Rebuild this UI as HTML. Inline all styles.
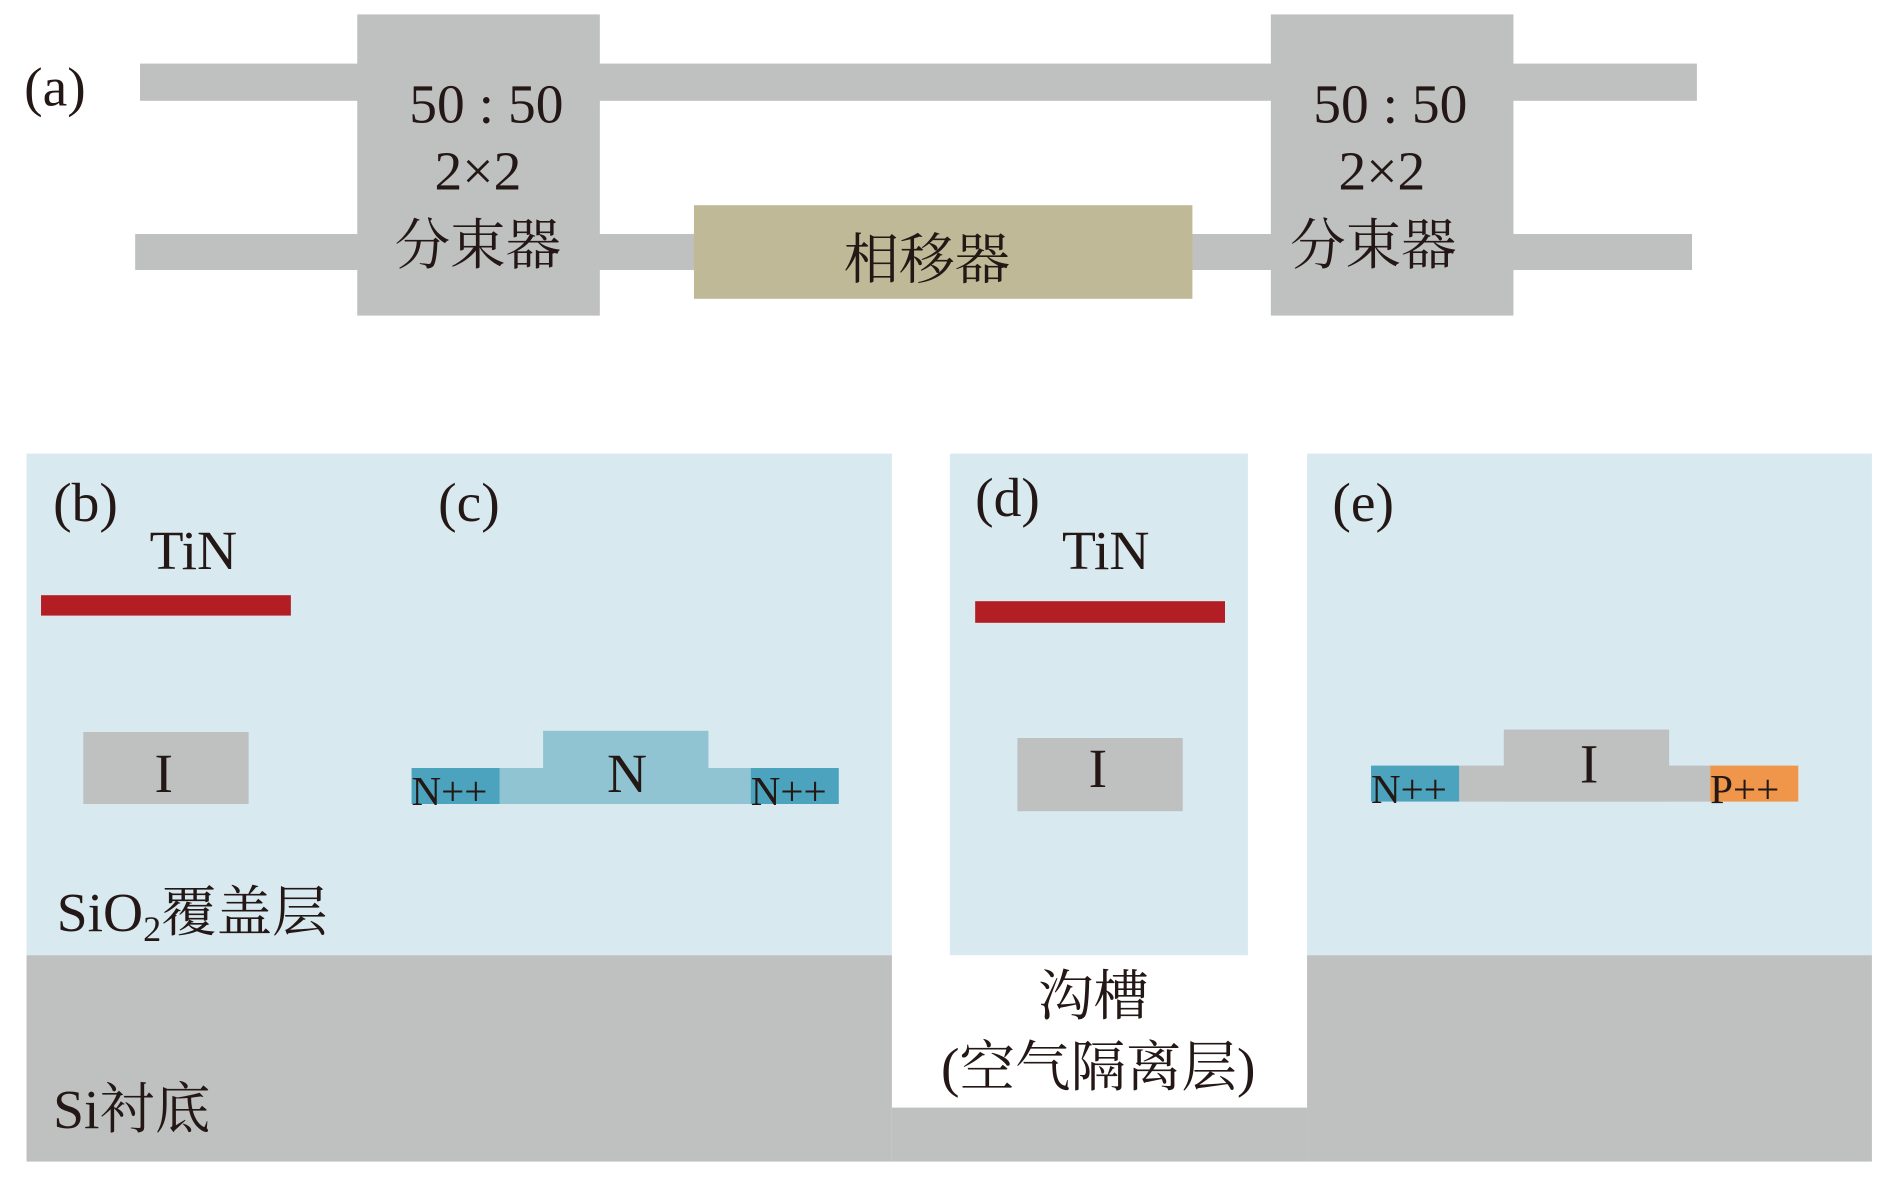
<!DOCTYPE html>
<html><head><meta charset="utf-8"><style>
html,body{margin:0;padding:0;background:#fff;width:1890px;height:1182px;overflow:hidden}
svg{display:block}
text{font-family:"Liberation Serif","Noto Serif CJK SC",serif;fill:#231815}
</style></head><body>
<svg width="1890" height="1182" viewBox="0 0 1566 985" preserveAspectRatio="none" xmlns="http://www.w3.org/2000/svg">
<rect width="1566" height="985" fill="#fff"/>
<rect x="116" y="53" width="1290" height="31" fill="#bfc0c0"/>
<rect x="112" y="195" width="1290" height="30" fill="#bfc0c0"/>
<rect x="296" y="12" width="201" height="251" fill="#bfc0c0"/>
<rect x="1053" y="12" width="201" height="251" fill="#bfc0c0"/>
<rect x="575" y="171" width="413" height="78" fill="#c0b997"/>
<text x="20" y="88" font-size="46">(a)</text>
<g font-size="46" text-anchor="middle">
<text x="403" y="102">50 : 50</text>
<text x="396" y="158">2×2</text>
<text x="396" y="220">分束器</text>
<text x="1152" y="102">50 : 50</text>
<text x="1145" y="158">2×2</text>
<text x="1138" y="220">分束器</text>
<text x="768" y="232">相移器</text>
</g>
<rect x="22" y="378" width="717" height="418" fill="#d9e9f0"/>
<rect x="787" y="378" width="247" height="418" fill="#d9e9f0"/>
<rect x="1083" y="378" width="468" height="418" fill="#d9e9f0"/>
<rect x="22" y="796" width="717" height="172" fill="#bfc0c0"/>
<rect x="1083" y="796" width="468" height="172" fill="#bfc0c0"/>
<rect x="739" y="923" width="344" height="45" fill="#bfc0c0"/>
<rect x="34" y="496" width="207" height="17" fill="#b31e24"/>
<rect x="808" y="501" width="207" height="18" fill="#b31e24"/>
<rect x="69" y="610" width="137" height="60" fill="#bfc0c0"/>
<rect x="843" y="615" width="137" height="61" fill="#bfc0c0"/>
<rect x="414" y="640" width="208" height="30" fill="#90c4d2"/>
<rect x="450" y="609" width="137" height="61" fill="#90c4d2"/>
<rect x="341" y="640" width="73" height="30" fill="#4ba3bd"/>
<rect x="622" y="640" width="73" height="30" fill="#4ba3bd"/>
<rect x="1209" y="638" width="208" height="30" fill="#bfc0c0"/>
<rect x="1246" y="608" width="137" height="60" fill="#bfc0c0"/>
<rect x="1136" y="638" width="73" height="30" fill="#4ba3bd"/>
<rect x="1417" y="638" width="73" height="30" fill="#f0964a"/>
<g font-size="46">
<text x="44" y="434">(b)</text>
<text x="124" y="474">TiN</text>
<text x="363" y="434">(c)</text>
<text x="808" y="430">(d)</text>
<text x="880" y="474">TiN</text>
<text x="1104" y="434">(e)</text>
<text x="128" y="660">I</text>
<text x="902" y="656">I</text>
<text x="1309" y="652">I</text>
<text x="503" y="660">N</text>
</g>
<g font-size="34">
<text x="341" y="671">N++</text>
<text x="622" y="671">N++</text>
<text x="1136" y="669">N++</text>
<text x="1417" y="669">P++</text>
</g>
<text x="47" y="776" font-size="46">SiO<tspan font-size="30" dy="8">2</tspan><tspan dy="-8">覆盖层</tspan></text>
<text x="44" y="940" font-size="46">Si衬底</text>
<text x="906" y="846" font-size="46" text-anchor="middle">沟槽</text>
<text x="910" y="905" font-size="46" text-anchor="middle">(空气隔离层)</text>
</svg>
</body></html>
